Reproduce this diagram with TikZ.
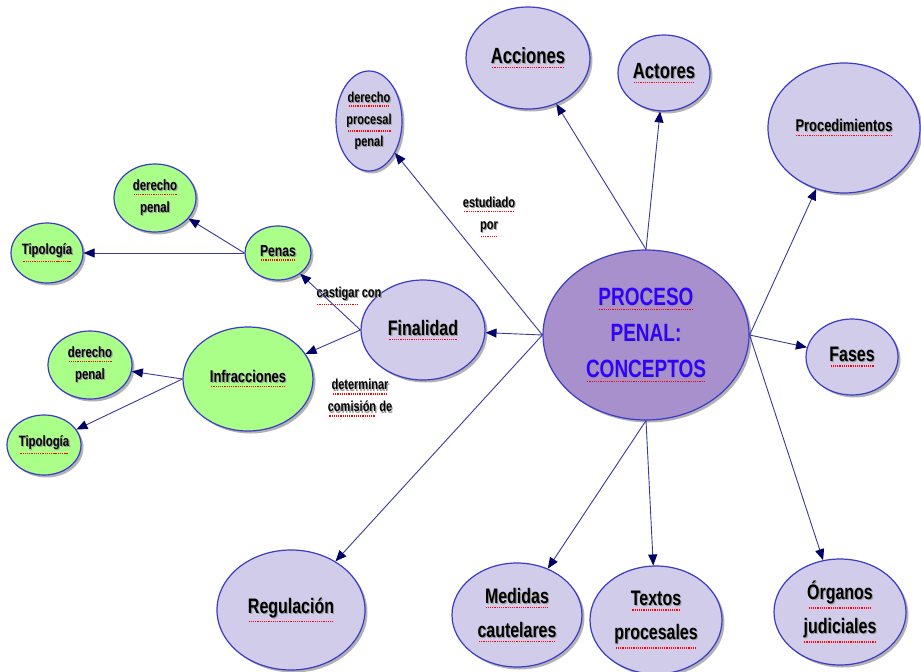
\documentclass[tikz,border=0pt]{standalone}
\usepackage{fontspec}
\setmainfont{Liberation Sans}[FakeStretch=0.76]
\usetikzlibrary{shapes.geometric,arrows.meta,shadows}
\definecolor{lav}{HTML}{D0CCE9}
\definecolor{cen}{HTML}{A790CB}
\definecolor{grn}{HTML}{AAFF88}
\definecolor{bord}{HTML}{3B3BC8}
\definecolor{edgec}{HTML}{3A3A99}
\definecolor{tipc}{HTML}{000066}
\definecolor{ctext}{HTML}{3300FF}
\definecolor{ulred}{HTML}{FF0000}
\newcount\dotn
\newcommand\sw[1]{\leavevmode\rlap{\kern1.1pt\raisebox{-1.1pt}{\textcolor{black!40}{#1}}}#1}
\newcommand\dotsrow{\ifnum\dotn>0 \kern0.5pt\vrule width1.2pt height1.4pt\kern0.5pt\advance\dotn by -1 \expandafter\dotsrow\fi}
\newcommand\uw[1]{\setbox0=\hbox{\sw{#1}}\dotn=\wd0 \divide\dotn by 144179
  \leavevmode\vtop{\copy0\nointerlineskip\kern2pt\hbox to\wd0{\color{ulred}\hss\dotsrow\hss}}}
\begin{document}
\begin{tikzpicture}[x=1pt,y=-1pt,
 concept/.style={ellipse,draw=bord,line width=1.2pt,fill=lav,inner sep=0pt,align=center,
   drop shadow={shadow xshift=2.5pt,shadow yshift=-2.5pt,fill=black,opacity=0.3}},
 gconcept/.style={concept,fill=grn},
 sz/.style 2 args={font=\bfseries\fontsize{#1}{#2}\selectfont},
 dim/.style 2 args={minimum width=#1pt,minimum height=#2pt},
 link/.style={draw=edgec,line width=0.9pt,-{Triangle[length=11pt,width=9pt,color=tipc]}},
 lbl/.style={align=center,inner sep=0pt,sz={14.5}{22}}]
\useasboundingbox[fill=white] (0,0) rectangle (921,672);

% central
\node[concept,fill=cen,dim={206}{170},sz={25}{36},text=ctext] (c) at (646,335)
  {\uw{PROCESO}\\\sw{PENAL:}\\\uw{CONCEPTOS}};

% top / right / bottom concepts
\node[concept,dim={124}{102},sz={22}{26}] (acc) at (528,58) {\uw{Acciones}};
\node[concept,dim={92}{76},sz={22}{26}] (act) at (664,73) {\uw{Actores}};
\node[concept,dim={152}{130},sz={17}{22}] (proc) at (844,128) {\uw{Procedimientos}};
\node[concept,dim={92}{76},sz={21}{26}] (fas) at (852,357) {\uw{Fases}};
\node[concept,dim={132}{106},sz={21}{34}] (org) at (840,612) {\uw{Órganos}\\\uw{judiciales}};
\node[concept,dim={132}{108},sz={21}{34}] (tex) at (656,620) {\uw{Textos}\\\uw{procesales}};
\node[concept,dim={130}{104},sz={21}{34}] (med) at (517,615) {\uw{Medidas}\\\uw{cautelares}};
\node[concept,dim={148}{120},sz={21}{26}] (reg) at (291,610) {\uw{Regulación}};
\node[concept,dim={124}{100},sz={21}{26}] (fin) at (423,330) {\uw{Finalidad}};
\node[concept,dim={66}{100},sz={14.5}{22}] (dpp) at (369,121) {\uw{derecho}\\\uw{procesal}\\\sw{penal}};

% green concepts
\node[gconcept,dim={66}{54},sz={16}{20}] (pen) at (278,253) {\uw{Penas}};
\node[gconcept,dim={82}{68},sz={15}{22}] (dp1) at (155,198) {\uw{derecho}\\\sw{penal}};
\node[gconcept,dim={72}{60},sz={15}{20}] (tip1) at (47,253) {\uw{Tipología}};
\node[gconcept,dim={130}{104},sz={17}{22}] (inf) at (248,379) {\uw{Infracciones}};
\node[gconcept,dim={84}{68},sz={15}{22}] (dp2) at (90,365) {\uw{derecho}\\\sw{penal}};
\node[gconcept,dim={74}{60},sz={15}{20}] (tip2) at (44,445) {\uw{Tipología}};

% link labels
\node[lbl] (l1) at (489,217) {\uw{estudiado}\\\uw{por}};
\node[lbl] (l2) at (349,296) {\uw{castigar} \sw{con}};
\node[lbl] (l3) at (360,398) {\uw{determinar}\\\uw{comisión} \sw{de}};

% connectors
\draw[link] (c.north) -- (acc);
\draw[link] (c.north) -- (act);
\draw[link] (c.east) -- (proc);
\draw[link] (c.east) -- (fas);
\draw[link] (c.east) -- (org);
\draw[link] (c.south) -- (tex);
\draw[link] (c.south) -- (med);
\draw[link] (c.west) -- (reg);
\draw[link] (c.west) -- (fin);
\draw[link] (c.west) -- (dpp);
\draw[link] (fin.west) -- (pen);
\draw[link] (fin.west) -- (inf);
\draw[link] (pen.west) -- (dp1);
\draw[link] (pen.west) -- (tip1);
\draw[link] (inf.west) -- (dp2);
\draw[link] (inf.west) -- (tip2);
\end{tikzpicture}
\end{document}
